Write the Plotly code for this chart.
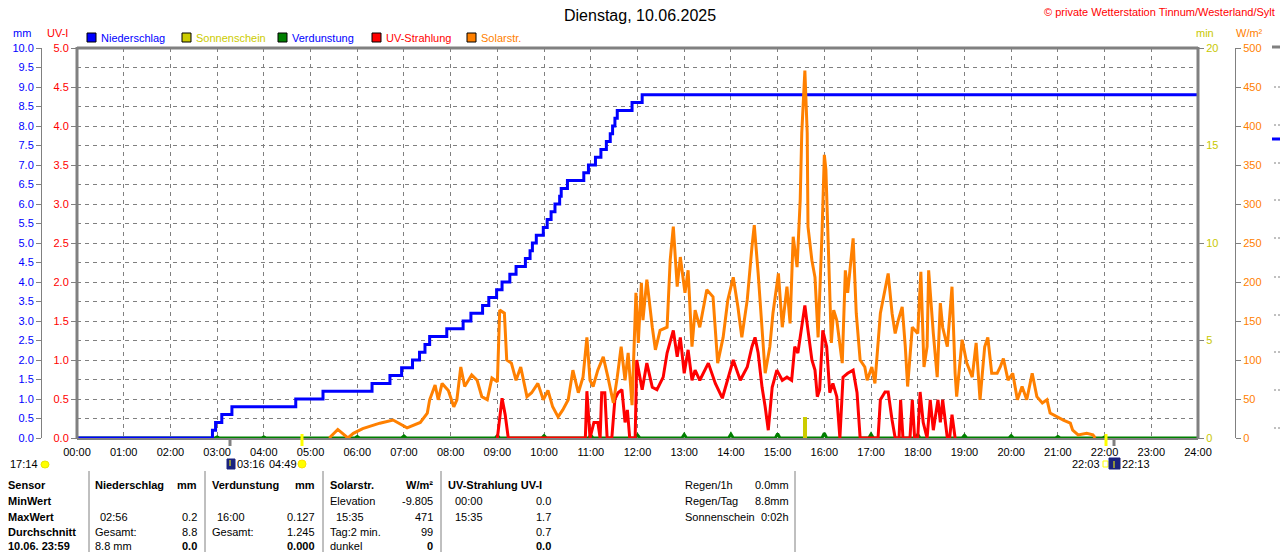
import plotly.graph_objects as go

W, H = 1280, 552
FONT = "Liberation Sans, Arial, sans-serif"

# ---------------- data ----------------
rain_times = ["00:00", "02:54", "02:58", "03:06", "03:19", "04:41", "05:16", "06:19", "06:42", "06:57",
              "07:11", "07:20", "07:27", "07:33", "07:55", "08:16", "08:26", "08:41", "08:49", "08:59",
              "09:06", "09:16", "09:24", "09:36", "09:42", "09:45", "09:50", "09:59", "10:04", "10:09",
              "10:14", "10:20", "10:22", "10:30", "10:51", "10:57", "11:06", "11:13", "11:20", "11:25",
              "11:28", "11:31", "11:34", "11:53", "12:06", "24:00"]
rain_mm = [0.0, 0.2, 0.4, 0.6, 0.8, 1.0, 1.2, 1.4, 1.6, 1.8,
           2.0, 2.2, 2.4, 2.6, 2.8, 3.0, 3.2, 3.4, 3.6, 3.8,
           4.0, 4.2, 4.4, 4.6, 4.8, 5.0, 5.2, 5.4, 5.6, 5.8,
           6.0, 6.2, 6.4, 6.6, 6.8, 7.0, 7.2, 7.4, 7.6, 7.8,
           8.0, 8.2, 8.4, 8.6, 8.8, 8.8]

solar_times = [
    "05:24", "05:35", "05:48", "05:55",
    "06:07", "06:29", "06:46",
    "07:04", "07:21", "07:30", "07:33", "07:40", "07:44", "07:49", "07:57",
    "08:04", "08:08", "08:13", "08:18", "08:27", "08:34", "08:40", "08:47", "08:53",
    "09:00", "09:03", "09:09", "09:12", "09:18", "09:24", "09:30", "09:38", "09:44", "09:52", "09:59",
    "10:05", "10:11", "10:18", "10:24", "10:31", "10:37", "10:44", "10:50", "10:55", "10:59",
    "11:03", "11:09", "11:16", "11:22", "11:29", "11:34", "11:39", "11:44", "11:48", "11:53", "11:58",
    "12:01", "12:05", "12:07", "12:12", "12:19", "12:23", "12:29", "12:38", "12:42", "12:46", "12:51", "12:55",
    "13:01", "13:05", "13:10", "13:14", "13:20", "13:29", "13:37", "13:43", "13:50", "13:56",
    "14:03", "14:09", "14:14", "14:21", "14:27", "14:30", "14:35", "14:40", "14:44", "14:50", "14:54",
    "15:01", "15:06", "15:12", "15:16", "15:20", "15:25", "15:29", "15:31", "15:35", "15:38", "15:39", "15:44", "15:48", "15:52", "15:57",
    "16:00", "16:02", "16:05", "16:09", "16:12", "16:16", "16:23", "16:27", "16:30", "16:37", "16:41", "16:46", "16:52", "16:55",
    "17:01", "17:05", "17:12", "17:18", "17:22", "17:27", "17:31", "17:35", "17:40", "17:44", "17:47", "17:53",
    "18:00", "18:04", "18:08", "18:12", "18:14", "18:20", "18:25", "18:29", "18:32", "18:38", "18:44", "18:48", "18:50", "18:57",
    "19:03", "19:10", "19:15", "19:20", "19:26", "19:30", "19:35", "19:42", "19:46", "19:50", "19:56",
    "20:02", "20:08", "20:14", "20:20", "20:27", "20:33", "20:40", "20:46", "20:50", "20:59",
    "21:07", "21:16", "21:19", "21:26", "21:37", "21:45", "21:48"]
solar_wm2 = [
    0, 11, 0, 6,
    12, 19, 23,
    13, 20, 32, 49, 68, 49, 70, 61,
    40, 49, 91, 66, 81, 74, 53, 49, 77,
    72, 164, 160, 100, 96, 74, 91, 53, 58, 70, 49,
    61, 40, 27, 36, 49, 87, 58, 78, 129, 74,
    66, 87, 104, 78, 45, 78, 117, 74, 109, 42, 186,
    122, 199, 151, 203, 142, 113, 138, 142, 228, 271, 194, 232,
    186, 215, 117, 164, 142, 190, 181, 96, 129, 177,
    206, 168, 129, 177, 245, 273, 211, 134, 83, 117, 160,
    211, 142, 194, 147, 258, 219, 305, 391, 471, 391, 271, 228, 206, 129, 262,
    363, 344, 245, 122, 164, 151, 96, 215, 186, 256, 160, 100, 91, 74,
    91, 70, 160, 190, 211, 160, 134, 151, 168, 117, 66, 142,
    134, 213, 91, 117, 215, 134, 78, 173, 142, 117, 194, 83, 53, 126,
    96, 78, 122, 49, 117, 129, 83, 83, 91, 102, 74,
    83, 49, 66, 49, 83, 53, 45, 49, 32, 27,
    23, 19, 10, 4, 6, 4, 0]

uv_times = [
    "09:00", "09:03", "09:06", "09:10", "09:14",
    "10:53", "10:55", "10:59",
    "11:04", "11:09", "11:12", "11:14", "11:18", "11:21", "11:27", "11:31", "11:35", "11:40", "11:44", "11:47", "11:50", "11:57", "11:59",
    "12:06", "12:12", "12:19", "12:25", "12:33", "12:38", "12:46", "12:51", "12:55",
    "13:00", "13:05", "13:10", "13:14", "13:20", "13:31", "13:40", "13:49", "13:56",
    "14:03", "14:12", "14:21", "14:27", "14:31", "14:35", "14:40", "14:44", "14:48", "14:53", "14:59",
    "15:06", "15:12", "15:18", "15:22", "15:26", "15:31", "15:35", "15:39", "15:44", "15:48", "15:51", "15:54", "15:58",
    "16:03", "16:07", "16:11", "16:16", "16:20", "16:24", "16:30", "16:37", "16:42", "16:46",
    "17:09", "17:12", "17:18", "17:22", "17:27", "17:31", "17:36", "17:38", "17:41", "17:50", "17:53", "17:56",
    "18:00", "18:03", "18:07", "18:12", "18:16", "18:20", "18:23", "18:26", "18:29", "18:32", "18:38", "18:41", "18:44", "18:48"]
uv_index = [
    0.0, 0.3, 0.51, 0.3, 0.0,
    0.0, 0.6, 0.0,
    0.2, 0.2, 0.0, 0.58, 0.58, 0.0, 0.0, 0.5, 0.58, 0.62, 0.2, 0.36, 0.0, 0.0, 1.0,
    0.62, 0.96, 0.65, 0.62, 0.78, 1.09, 1.38, 1.04, 1.29,
    0.83, 1.13, 0.74, 0.87, 0.74, 0.96, 0.70, 0.51, 0.74,
    1.0, 0.74, 0.91, 1.17, 1.29, 1.09, 0.65, 0.40, 0.1, 0.65, 0.87,
    0.74, 0.78, 0.74, 1.17, 1.09, 1.47, 1.7, 1.38, 1.0, 0.87, 0.53, 0.62, 1.38,
    1.17, 0.58, 0.70, 0.53, 0.0, 0.78, 0.83, 0.87, 0.58, 0.0,
    0.0, 0.49, 0.59, 0.59, 0.23, 0.0, 0.0, 0.49, 0.0, 0.0, 0.49, 0.0,
    0.0, 0.59, 0.2, 0.0, 0.49, 0.1, 0.3, 0.49, 0.2, 0.49, 0.0, 0.0, 0.3, 0.0]

sun_times = ["15:35"]
sun_minutes = [1.1]

evap_hours = [3, 4, 5, 6, 7, 8, 9, 10, 11, 12, 13, 14, 15, 16, 17, 18, 19, 20, 21, 22]
evap_mm = [0.03, 0.03, 0.0, 0.04, 0.05, 0.0, 0.06, 0.06, 0.07, 0.08,
           0.09, 0.10, 0.11, 0.127, 0.10, 0.09, 0.07, 0.06, 0.04, 0.03]

hour_labels = [f"{h:02d}:00" for h in range(25)]
mm_ticks = [i * 0.5 for i in range(21)]
uv_ticks = [i * 0.5 for i in range(11)]
min_ticks = [0, 5, 10, 15, 20]
wm2_ticks = list(range(0, 501, 50))

assert len(solar_times) == len(solar_wm2)
assert len(uv_times) == len(uv_index)
assert len(rain_times) == len(rain_mm)


def hrs(s):
    h, m = s.split(":")
    return int(h) + int(m) / 60.0


BLUE = "#0000ff"
RED = "#ff0000"
ORANGE = "#ff8000"
YELLOW = "#cccc00"
GREEN = "#008000"
GRAY = "#808080"

fig = go.Figure()

fig.add_trace(go.Scatter(x=[hrs(t) for t in solar_times], y=solar_wm2, mode="lines",
                         line=dict(color=ORANGE, width=3), name="Solarstr.", yaxis="y4"))
fig.add_trace(go.Scatter(x=[hrs(t) for t in uv_times], y=uv_index, mode="lines",
                         line=dict(color=RED, width=3), name="UV-Strahlung", yaxis="y2"))

ex, ey = [0.0], [0.0]
for h, v in zip(evap_hours, evap_mm):
    ex += [h - 0.05, h, h + 0.05]
    ey += [0.0, v, 0.0]
ex.append(24.0)
ey.append(0.0)
fig.add_trace(go.Scatter(x=ex, y=ey, mode="lines", line=dict(color=GREEN, width=3),
                         name="Verdunstung", yaxis="y"))

fig.add_trace(go.Scatter(x=[hrs(t) for t in rain_times], y=rain_mm, mode="lines",
                         line=dict(color=BLUE, width=3, shape="hv"), name="Niederschlag", yaxis="y"))
fig.add_trace(go.Bar(x=[hrs(t) for t in sun_times], y=sun_minutes, width=[0.1],
                     marker=dict(color=YELLOW, line=dict(width=0)), name="Sonnenschein", yaxis="y3"))

X0, X1, Y0, Y1 = 77, 1198, 48, 438
dom_y = [1 - Y1 / H, 1 - Y0 / H]
tf = lambda c: dict(family=FONT, size=11, color=c)

fig.update_layout(
    width=W, height=H, showlegend=False,
    margin=dict(l=0, r=0, t=0, b=0, autoexpand=False),
    paper_bgcolor="white", plot_bgcolor="white",
    font=dict(family=FONT, size=11, color="black"),
    bargap=0,
    xaxis=dict(domain=[X0 / W, X1 / W], range=[0, 24], tickvals=list(range(25)), ticktext=hour_labels,
               showgrid=True, gridcolor=GRAY, gridwidth=1, griddash="4px,4px", zeroline=False,
               showline=False, ticks="outside", ticklen=4, tickcolor="rgba(0,0,0,0)",
               tickfont=tf("black"), fixedrange=True),
    yaxis=dict(domain=dom_y, range=[0, 10], anchor="free", position=41 / W, side="left",
               tickvals=mm_ticks, ticktext=[f"{v:.1f}" for v in mm_ticks], tickfont=tf(BLUE),
               showline=True, linecolor=GRAY, linewidth=1, ticks="outside", ticklen=5, tickcolor=GRAY,
               showgrid=True, gridcolor=GRAY, gridwidth=1, griddash="4px,4px", zeroline=False),
    yaxis2=dict(overlaying="y", anchor="x", side="left", range=[0, 5],
                tickvals=uv_ticks, ticktext=[f"{v:.1f}" for v in uv_ticks], tickfont=tf(RED),
                ticks="outside", ticklen=5, tickcolor=GRAY, showgrid=False, zeroline=False, showline=False),
    yaxis3=dict(overlaying="y", anchor="x", side="right", range=[0, 20],
                tickvals=min_ticks, ticktext=[str(v) for v in min_ticks], tickfont=tf("#c8c800"),
                ticks="outside", ticklen=5, tickcolor=GRAY, showgrid=False, zeroline=False, showline=False),
    yaxis4=dict(overlaying="y", anchor="free", position=1235 / W, side="right", range=[0, 500],
                tickvals=wm2_ticks, ticktext=[str(v) for v in wm2_ticks], tickfont=tf(ORANGE),
                showline=True, linecolor=GRAY, linewidth=1, ticks="outside", ticklen=5, tickcolor=GRAY,
                showgrid=False, zeroline=False),
)

shapes = []
ann = []


def px(x):
    return x / W


def py(y):
    return 1 - y / H


def line(x0, y0, x1, y1, color=GRAY, width=1, dash=None):
    d = dict(type="line", xref="paper", yref="paper", x0=px(x0), y0=py(y0), x1=px(x1), y1=py(y1),
             line=dict(color=color, width=width), layer="above")
    if dash:
        d["line"]["dash"] = dash
    shapes.append(d)


def rect(x0, y0, x1, y1, fill, border="black", width=1, kind="rect"):
    shapes.append(dict(type=kind, xref="paper", yref="paper", x0=px(x0), y0=py(y0), x1=px(x1), y1=py(y1),
                       fillcolor=fill, line=dict(color=border, width=width), layer="above"))


def txt(x, y, s, color="black", size=11, anchor="left", bold=False):
    if bold:
        s = f"<b>{s}</b>"
    ann.append(dict(x=px(x), y=py(y), xref="paper", yref="paper", text=s, showarrow=False,
                    xanchor=anchor, yanchor="middle", borderpad=0,
                    font=dict(family=FONT, size=size, color=color)))


# plot frame
line(X0, Y0, X1, Y0, width=3)
line(X0, Y0 - 1, X0, Y1 + 1, width=3)
line(X1, Y0 - 1, X1, Y1 + 1, width=3)
line(X0, Y1 + 1, X1, Y1 + 1, width=2)

# title and credit
txt(640, 15, "Dienstag, 10.06.2025", size=16, anchor="center")
txt(1276, 12, "© private Wetterstation Tinnum/Westerland/Sylt", color=RED, size=11, anchor="right")

# axis titles
txt(22, 33, "mm", color=BLUE, anchor="center")
txt(57, 33, "UV-I", color=RED, anchor="center")
txt(1205, 33, "min", color="#c8c800", anchor="center")
txt(1249, 33, "W/m²", color=ORANGE, anchor="center")

# legend
legend = [(87, BLUE, "Niederschlag", BLUE), (182, YELLOW, "Sonnenschein", YELLOW),
          (278, GREEN, "Verdunstung", BLUE), (372, RED, "UV-Strahlung", RED),
          (467, ORANGE, "Solarstr.", ORANGE)]
for x, c, label, tc in legend:
    rect(x, 33, x + 9, 42, c)
    txt(x + 13, 38, label, color=tc)

# dawn / sunrise / sunset / dusk markers
line(230, 438, 230, 446, color=GRAY, width=3)
line(302, 434, 302, 446, color="#ffff00", width=3)
line(1106, 434, 1106, 446, color="#ffff00", width=3)
line(1114, 438, 1114, 446, color=GRAY, width=3)

txt(9, 464, "17:14")
rect(41, 461, 49, 468, "#ffff00", border="#e6e600", kind="circle")
rect(227, 459, 235, 469, "#1a237e", border="#1a237e")
line(230, 460, 230, 466, color="#ffff00", width=1)
txt(236, 464, "03:16")
txt(268, 464, "04:49")
rect(298, 460, 306, 468, "#ffff00", border="#ffe000", kind="circle")
txt(1071, 464, "22:03")
rect(1103, 461, 1108, 467, "white", border="#ffff00")
rect(1109, 458, 1120, 469, "#1a237e", border="#1a237e")
line(1114, 461, 1114, 468, color="#ffff00", width=1)
txt(1121, 464, "22:13")

# right-edge remnants of neighbouring chart
line(1272, 47, 1280, 47, width=3)
for yy in [87, 125, 163, 200, 238, 277, 315, 352, 390, 428]:
    line(1274, yy, 1280, yy, width=1, dash="2px,2px")
line(1272, 139, 1280, 139, color=BLUE, width=3)

# stats table
for xs in [89, 205, 323, 441, 795]:
    line(xs, 471, xs, 552, width=1)

rows = [485, 501, 517, 532, 546]
txt(7, rows[0], "Sensor", bold=True)
txt(7, rows[1], "MinWert", bold=True)
txt(7, rows[2], "MaxWert", bold=True)
txt(7, rows[3], "Durchschnitt", bold=True)
txt(7, rows[4], "10.06. 23:59", bold=True)

txt(94, rows[0], "Niederschlag", bold=True)
txt(198, rows[0], "mm", bold=True, anchor="right")
txt(99, rows[2], "02:56")
txt(198, rows[2], "0.2", anchor="right")
txt(94, rows[3], "Gesamt:")
txt(198, rows[3], "8.8", anchor="right")
txt(94, rows[4], "8.8 mm")
txt(198, rows[4], "0.0", bold=True, anchor="right")

txt(211, rows[0], "Verdunstung", bold=True)
txt(316, rows[0], "mm", bold=True, anchor="right")
txt(216, rows[2], "16:00")
txt(316, rows[2], "0.127", anchor="right")
txt(211, rows[3], "Gesamt:")
txt(316, rows[3], "1.245", anchor="right")
txt(316, rows[4], "0.000", bold=True, anchor="right")

txt(329, rows[0], "Solarstr.", bold=True)
txt(434, rows[0], "W/m²", bold=True, anchor="right")
txt(329, rows[1], "Elevation")
txt(434, rows[1], "-9.805", anchor="right")
txt(335, rows[2], "15:35")
txt(434, rows[2], "471", anchor="right")
txt(329, rows[3], "Tag:2 min.")
txt(434, rows[3], "99", anchor="right")
txt(329, rows[4], "dunkel")
txt(434, rows[4], "0", bold=True, anchor="right")

txt(447, rows[0], "UV-Strahlung UV-I", bold=True)
txt(454, rows[1], "00:00")
txt(552, rows[1], "0.0", anchor="right")
txt(454, rows[2], "15:35")
txt(552, rows[2], "1.7", anchor="right")
txt(552, rows[3], "0.7", anchor="right")
txt(552, rows[4], "0.0", bold=True, anchor="right")

txt(684, rows[0], "Regen/1h")
txt(790, rows[0], "0.0mm", anchor="right")
txt(684, rows[1], "Regen/Tag")
txt(790, rows[1], "8.8mm", anchor="right")
txt(684, rows[2], "Sonnenschein")
txt(790, rows[2], "0:02h", anchor="right")

fig.update_layout(shapes=shapes, annotations=ann)
fig.write_html("out.html", config={"displayModeBar": False},
               post_script="document.body.style.margin='0';document.body.style.overflow='hidden';")
